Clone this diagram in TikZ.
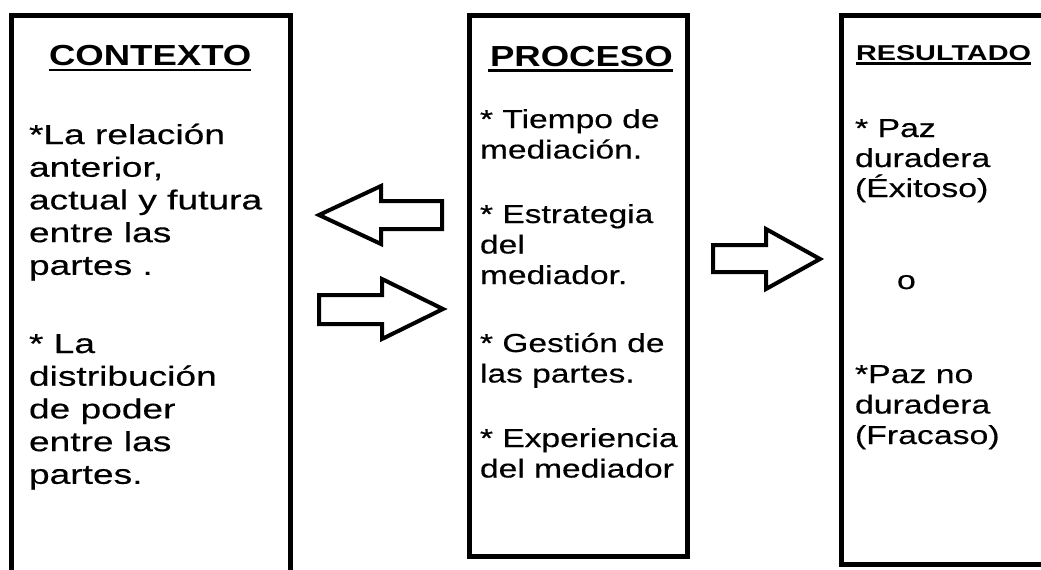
\documentclass[tikz,border=0pt]{standalone}
\usepackage{fontspec}
\setmainfont{Liberation Sans}
\newfontfamily\fctx[FakeStretch=1.35,FakeBold=0.4]{Liberation Sans}
\newfontfamily\fproc[FakeStretch=1.29,FakeBold=0.4]{Liberation Sans}
\newfontfamily\fres[FakeStretch=1.30,FakeBold=0.4]{Liberation Sans}
\newfontfamily\fhd[FakeStretch=1.26]{Liberation Sans}
\newfontfamily\fhdr[FakeStretch=1.34]{Liberation Sans}
\begin{document}
\begin{tikzpicture}[x=1pt,y=-1pt,
  box/.style={draw=black, line width=5pt},
  blockarrow/.style={draw=black, line width=4pt, line join=miter, fill=white},
  txt/.style={anchor=base west, inner sep=0pt, outer sep=0pt},
  uline/.style={line width=2.5pt}]
\useasboundingbox (0,0) rectangle (1041,570);
\fill[white] (0,0) rectangle (1041,570);
\clip (0,0) rectangle (1041,570);
% boxes
\draw[box] (11.5,15.5) rectangle (290.5,600);
\draw[box] (469.5,15.5) rectangle (687.5,556.5);
\draw[box] (841.5,15.5) rectangle (1070,564.5);
% block arrows
\draw[blockarrow] (319,215) -- (381,186) -- (381,201) -- (442,201) -- (442,229) -- (381,229) -- (381,244) -- cycle;
\draw[blockarrow] (319,295) -- (382,295) -- (382,279) -- (443,309) -- (382,339) -- (382,324) -- (319,324) -- cycle;
\draw[blockarrow] (713,245) -- (766,245) -- (766,229) -- (820,259) -- (766,289) -- (766,272) -- (713,272) -- cycle;
% headings
\node[txt] (hc) at (49,65.5) {\fhd\fontsize{29}{33}\selectfont\bfseries CONTEXTO};
\node[txt] (hp) at (490,66) {\fhd\fontsize{29}{33}\selectfont\bfseries PROCESO};
\node[txt] (hr) at (856,60) {\fhdr\fontsize{21.5}{25}\selectfont\bfseries RESULTADO};
\draw[uline] ([yshift=-4.5pt]hc.base west) -- ([yshift=-4.5pt]hc.base east);
\draw[uline] ([yshift=-4.5pt,xshift=-2pt]hp.base west) -- ([yshift=-4.5pt]hp.base east);
\draw[uline] ([yshift=-3.5pt]hr.base west) -- ([yshift=-3.5pt]hr.base east);
% contexto
\node[txt] (c1) at (29,144) {\vtop{\fctx\fontsize{27.5}{32.7}\selectfont
  \hbox{*La relación}\hbox{anterior,}\hbox{actual y futura}\hbox{entre las}\hbox{partes .}}};
\node[txt] (c2) at (29,353) {\vtop{\fctx\fontsize{27.5}{32.7}\selectfont
  \hbox{* La}\hbox{distribución}\hbox{de poder}\hbox{entre las}\hbox{partes.}}};
% proceso
\node[txt] (p1) at (480,128) {\vtop{\fproc\fontsize{26}{30.5}\selectfont
  \hbox{* Tiempo de}\hbox{mediación.}}};
\node[txt] (p2) at (480,223) {\vtop{\fproc\fontsize{26}{30.5}\selectfont
  \hbox{* Estrategia}\hbox{del}\hbox{mediador.}}};
\node[txt] (p3) at (480,352) {\vtop{\fproc\fontsize{26}{30.5}\selectfont
  \hbox{* Gestión de}\hbox{las partes.}}};
\node[txt] (p4) at (480,447) {\vtop{\fproc\fontsize{26}{30.5}\selectfont
  \hbox{* Experiencia}\hbox{del mediador}}};
% resultado
\node[txt] (r1) at (855,137) {\vtop{\fres\fontsize{26}{30}\selectfont
  \hbox{* Paz}\hbox{duradera}\hbox{(Éxitoso)}}};
\node[txt] (ro) at (897,289) {\fres\fontsize{26}{30}\selectfont o};
\node[txt] (r2) at (855,383) {\vtop{\fres\fontsize{26}{30.5}\selectfont
  \hbox{*Paz no}\hbox{duradera}\hbox{(Fracaso)}}};
\end{tikzpicture}
\end{document}
